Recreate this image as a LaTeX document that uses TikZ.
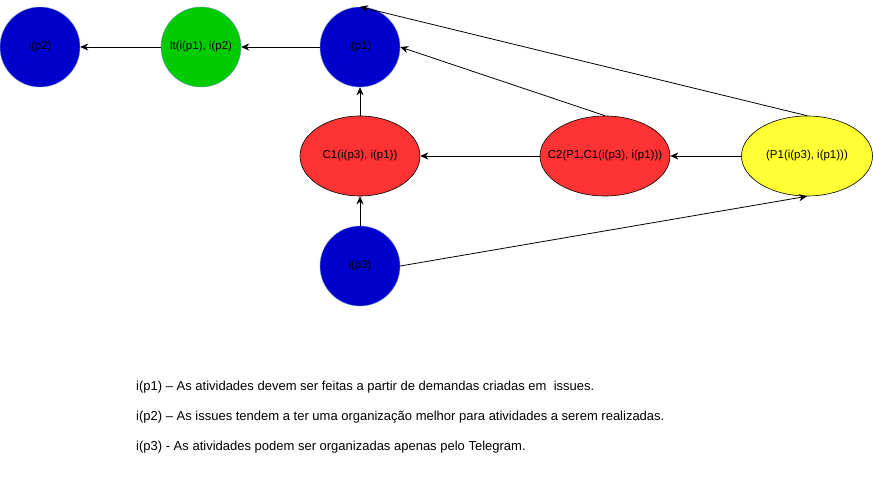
\documentclass[tikz,border=0pt]{standalone}
\usepackage{fontspec}
\setmainfont{Liberation Sans}
\usetikzlibrary{shapes.geometric, arrows.meta}
\definecolor{premblue}{HTML}{0000CC}
\definecolor{itgreen}{HTML}{00CC00}
\definecolor{cred}{HTML}{FF3333}
\definecolor{pyellow}{HTML}{FFFF33}
\definecolor{rimgray}{HTML}{6C8EBF}
\begin{document}
\begin{tikzpicture}[x=1pt, y=-1pt, font=\fontsize{11.5}{13}\selectfont,
	prem/.style={circle, draw=rimgray, fill=premblue, minimum size=80pt, inner sep=0pt},
	concl/.style={ellipse, draw, line width=0.6pt, fill=cred, minimum height=80pt, inner xsep=-20pt, inner ysep=0pt},
	legend/.style={anchor=west, inner sep=0pt, font=\fontsize{13}{15}\selectfont},
	link/.style={-{Stealth[length=8pt, width=7pt, inset=2.5pt]}, line width=0.8pt}]
%			\draw[help lines] (0,0) grid (873,478);
			\useasboundingbox (0,0) rectangle (873,478);
			\node[prem] (p2) at (40,47) {i(p2)};
			\node[circle, draw=rimgray, fill=itgreen, minimum size=80pt, inner sep=0pt] (lt) at (201,47) {lt(i(p1), i(p2)};
			\node[prem] (p1) at (360,47) {i(p1)};
			\node[concl, minimum width=120pt] (c1) at (360,156) {C1(i(p3), i(p1))};
			\node[concl, minimum width=130pt] (c2) at (605,156) {C2(P1,C1(i(p3), i(p1)))};
			\node[concl, fill=pyellow, minimum width=131pt] (pp) at (807,156) {(P1(i(p3), i(p1)))};
			\node[prem] (p3) at (360,266) {i(p3)};
			\draw[link] (lt) -- (p2);
			\draw[link] (p1) -- (lt);
			\draw[link] (c1) -- (p1);
			\draw[link] (p3) -- (c1);
			\draw[link] (c2) -- (c1);
			\draw[link] (pp) -- (c2);
			\draw[link] (c2.north) -- (p1.east);
			\draw[link] (pp.north) -- (p1.north);
			\draw[link] (p3.east) -- (pp.south);
			\node[legend] (leg1) at (136,387) {i(p1) -- As atividades devem ser feitas a partir de demandas criadas em \ issues.};
			\node[legend] (leg2) at (136,417) {i(p2) -- As issues tendem a ter uma organização melhor para atividades a serem realizadas.};
			\node[legend] (leg3) at (136,447) {i(p3) - As atividades podem ser organizadas apenas pelo Telegram.};
		\end{tikzpicture}
\end{document}
